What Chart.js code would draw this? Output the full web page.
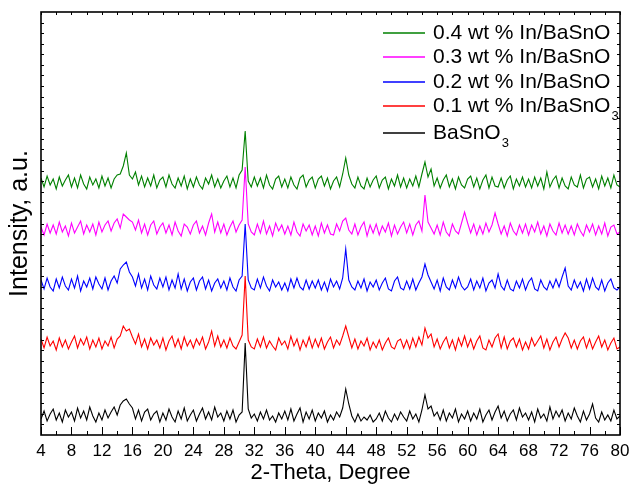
<!DOCTYPE html>
<html>
<head>
<meta charset="utf-8">
<script src="https://cdn.jsdelivr.net/npm/chart.js@4/dist/chart.umd.min.js"></script>
<style>
  html, body { margin: 0; padding: 0; background: #fff; }
  #wrap { width: 630px; height: 491px; }
</style>
</head>
<body>
<div id="wrap"><canvas id="xrd"></canvas></div>
<script>
// 2-theta grid: 4..80 deg, 0.4 deg steps (191 points)
const THETA_START = 4, THETA_STEP = 0.4;
const X_TICKS = ["4","8","12","16","20","24","28","32","36","40","44","48","52","56","60","64","68","72","76","80"];

// raw intensities (a.u.), one row per 4 deg
const basno3 = [
  4,12,2,9,14,3,10,1,13,6,
  11,2,15,5,12,3,16,7,1,10,
  3,13,5,11,16,8,18,22,24,19,
  15,4,13,2,11,14,3,9,12,1,
  10,3,14,6,1,12,4,15,2,8,
  13,2,9,15,4,11,3,16,6,10,
  2,12,4,13,1,8,11,80,14,5,
  9,2,11,4,13,3,7,1,10,4,
  12,3,14,2,9,15,1,11,4,13,
  2,10,5,12,1,8,3,11,6,15,
  34,19,7,1,9,2,6,3,8,1,
  4,10,2,12,5,1,9,3,11,6,
  2,12,4,9,1,13,28,14,17,7,
  11,3,13,2,10,5,14,1,9,4,
  12,2,10,4,14,1,8,13,3,11,
  17,5,12,2,9,13,3,15,6,10,
  3,11,1,14,5,9,2,16,4,12,
  6,13,2,10,4,15,7,1,12,3,
  9,19,5,1,11,3,8,2,13,4,
  7
];
const in01 = [
  12,3,14,5,10,1,13,4,11,2,
  9,15,3,12,6,14,2,11,4,13,
  2,10,5,14,3,12,15,25,20,22,
  14,7,17,4,12,2,13,6,11,3,
  13,1,10,15,4,12,2,14,5,11,
  3,12,6,14,2,9,20,5,15,4,
  11,3,13,5,2,9,16,75,11,4,
  2,12,4,14,3,10,5,1,13,6,
  10,2,15,5,12,1,11,4,14,3,
  12,4,13,2,9,14,3,11,6,15,
  25,14,3,12,2,10,5,13,1,9,
  3,11,1,8,13,4,2,10,12,3,
  11,2,13,4,14,6,23,13,17,4,
  12,2,9,14,3,11,1,13,5,15,
  4,12,2,10,15,3,1,11,4,13,
  17,3,14,2,10,13,4,12,1,9,
  2,13,5,10,15,3,12,1,9,14,
  4,12,18,13,3,11,2,10,14,3,
  12,2,9,15,4,11,1,8,13,2,
  4
];
const in02 = [
  12,3,14,5,1,13,4,15,6,2,
  13,4,16,1,11,5,14,3,15,8,
  3,14,2,11,16,9,23,27,30,20,
  15,6,18,4,13,2,16,7,3,14,
  5,15,2,12,4,18,3,13,1,10,
  14,2,11,15,3,12,1,9,13,4,
  11,2,14,5,1,12,16,68,12,4,
  2,13,4,15,6,1,12,5,10,2,
  9,1,13,4,14,5,2,12,3,11,
  4,12,2,10,1,13,5,11,3,14,
  43,12,5,2,11,4,13,1,10,5,
  12,2,9,14,3,1,11,15,4,2,
  11,3,13,2,9,15,28,17,10,3,
  12,1,14,5,2,12,4,15,6,2,
  5,13,2,11,4,14,1,9,12,4,
  18,6,2,12,3,1,11,4,13,2,
  10,14,3,1,12,5,2,11,4,13,
  5,15,24,6,2,12,4,10,1,13,
  3,14,5,2,12,1,9,13,4,2,
  5
];
const in03 = [
  10,2,13,4,12,3,15,5,11,1,
  14,4,10,16,3,12,5,13,2,15,
  5,12,16,6,14,18,9,23,20,17,
  15,7,17,4,13,2,12,16,3,10,
  14,4,12,2,15,6,1,13,10,3,
  12,16,4,11,2,14,23,5,15,4,
  13,2,10,16,5,12,17,70,13,5,
  2,13,4,16,3,11,1,14,6,12,
  3,11,2,15,5,1,13,6,12,2,
  11,1,14,4,12,3,2,13,6,16,
  19,7,3,13,2,10,15,1,12,4,
  13,2,11,5,14,1,12,3,10,15,
  4,13,2,12,16,6,42,15,9,3,
  12,2,15,5,1,13,6,3,14,25,
  14,4,13,2,11,3,14,5,12,24,
  13,3,11,1,14,6,2,12,4,13,
  2,12,5,15,3,11,1,13,6,2,
  14,4,12,3,11,2,13,6,1,12,
  5,13,2,11,3,14,1,10,12,3,
  5
];
const in04 = [
  12,3,14,5,11,1,13,4,10,15,
  3,12,2,15,6,1,13,5,11,2,
  14,4,12,2,11,15,16,24,37,15,
  11,18,5,14,3,12,4,15,2,10,
  13,3,15,6,2,12,4,14,1,11,
  3,13,5,1,12,6,15,3,11,2,
  9,14,3,12,2,15,20,59,9,3,
  13,4,12,2,15,5,1,11,14,3,
  11,2,13,5,1,12,15,3,10,13,
  2,11,14,4,12,1,9,13,3,16,
  32,15,6,2,13,4,1,12,3,10,
  14,2,10,13,1,11,4,15,3,12,
  2,11,4,14,3,16,28,13,21,4,
  12,2,10,15,3,11,1,13,5,2,
  11,14,3,12,1,10,15,2,13,4,
  3,12,2,10,14,1,11,4,13,3,
  11,2,13,4,12,1,18,3,10,14,
  2,12,4,1,13,5,3,15,2,11,
  13,3,11,1,14,4,12,2,15,5,
  3
];

// vertical offsets used to stack the patterns
const NAMES   = ["BaSnO3", "0.1 wt % In/BaSnO3", "0.2 wt % In/BaSnO", "0.3 wt % In/BaSnO", "0.4 wt % In/BaSnO"];
const SERIES  = [basno3, in01, in02, in03, in04];
const OFFSETS = [12, 84, 143, 198, 245];
const COLORS  = ["#000000", "#ff0000", "#0000ff", "#ff00ff", "#008000"];
const Y_MAX = 423;

const FONT = "'Liberation Sans', Arial, sans-serif";

function toPoints(arr, off) {
  return arr.map((v, i) => ({ x: THETA_START + i * THETA_STEP, y: v + off }));
}

const datasets = SERIES.map((arr, i) => ({
  label: NAMES[i],
  data: toPoints(arr, OFFSETS[i]),
  borderColor: COLORS[i],
  borderWidth: 1.1,
  pointRadius: 0,
  tension: 0,
  fill: false
}));

// box, inward ticks
const framePlugin = {
  id: 'frame',
  afterDraw(chart) {
    const { ctx, chartArea: a, scales: { x, y } } = chart;
    ctx.save();
    ctx.strokeStyle = '#000';
    ctx.lineWidth = 1;
    ctx.beginPath();
    for (let v = 4; v <= 80; v += 2) {
      const px = Math.round(x.getPixelForValue(v)) + 0.5;
      const len = (v % 4 === 0) ? 8 : 4;
      ctx.moveTo(px, a.bottom); ctx.lineTo(px, a.bottom - len);
      ctx.moveTo(px, a.top); ctx.lineTo(px, a.top + 3);
    }
    for (let k = 1; k < 40; k++) {
      const py = Math.round(y.getPixelForValue(k * Y_MAX / 40)) + 0.5;
      ctx.moveTo(a.left, py); ctx.lineTo(a.left + 3, py);
      ctx.moveTo(a.right, py); ctx.lineTo(a.right - 3, py);
    }
    ctx.stroke();
    ctx.lineWidth = 1.6;
    ctx.strokeRect(a.left, a.top, a.right - a.left, a.bottom - a.top);
    ctx.restore();
  }
};

// legend with subscripts, top-right inside the plot
const legendPlugin = {
  id: 'xrdLegend',
  afterDraw(chart) {
    const { ctx, chartArea: a } = chart;
    const rows = [4, 3, 2, 1, 0];
    const ys = [33, 57, 82, 106, 133];
    const x0 = a.right - 237, x1 = a.right - 195, tx = a.right - 187;
    ctx.save();
    rows.forEach((si, r) => {
      const yy = ys[r];
      ctx.strokeStyle = COLORS[si];
      ctx.lineWidth = 1.3;
      ctx.beginPath();
      ctx.moveTo(x0, yy); ctx.lineTo(x1, yy);
      ctx.stroke();
      let name = NAMES[si], sub = '';
      if (name.endsWith('O3')) { name = name.slice(0, -1); sub = '3'; }
      ctx.fillStyle = '#000';
      ctx.textBaseline = 'middle';
      ctx.font = '21px ' + FONT;
      ctx.fillText(name, tx, yy);
      if (sub) {
        const w = ctx.measureText(name).width;
        ctx.font = '13px ' + FONT;
        ctx.fillText(sub, tx + w + 1, yy + 10);
      }
    });
    ctx.restore();
  }
};

new Chart(document.getElementById('xrd'), {
  type: 'line',
  data: { datasets },
  options: {
    responsive: true,
    maintainAspectRatio: false,
    animation: false,
    layout: { padding: { top: 12, right: 0, left: 0, bottom: 0 } },
    plugins: { legend: { display: false }, tooltip: { enabled: false } },
    scales: {
      x: {
        type: 'linear',
        min: 4, max: 80,
        afterFit(s) { s.height = 56; s.paddingLeft = 0; s.paddingRight = 10; },
        afterBuildTicks(s) { s.ticks = X_TICKS.map(t => ({ value: Number(t) })); },
        grid: { display: false, drawTicks: false },
        border: { display: false },
        ticks: { color: '#000', padding: 6, font: { family: FONT, size: 17 }, maxRotation: 0, autoSkip: false },
        title: { display: true, text: '2-Theta, Degree', color: '#000', font: { family: FONT, size: 22 }, padding: { top: 0, bottom: 5 } }
      },
      y: {
        min: 0, max: Y_MAX,
        afterFit(s) { s.width = 41; },
        grid: { display: false, drawTicks: false },
        border: { display: false },
        ticks: { display: false },
        title: { display: true, text: 'Intensity, a.u.', color: '#000', font: { family: FONT, size: 25 }, padding: { top: 5, bottom: 0 } }
      }
    }
  },
  plugins: [framePlugin, legendPlugin]
});
</script>
</body>
</html>
